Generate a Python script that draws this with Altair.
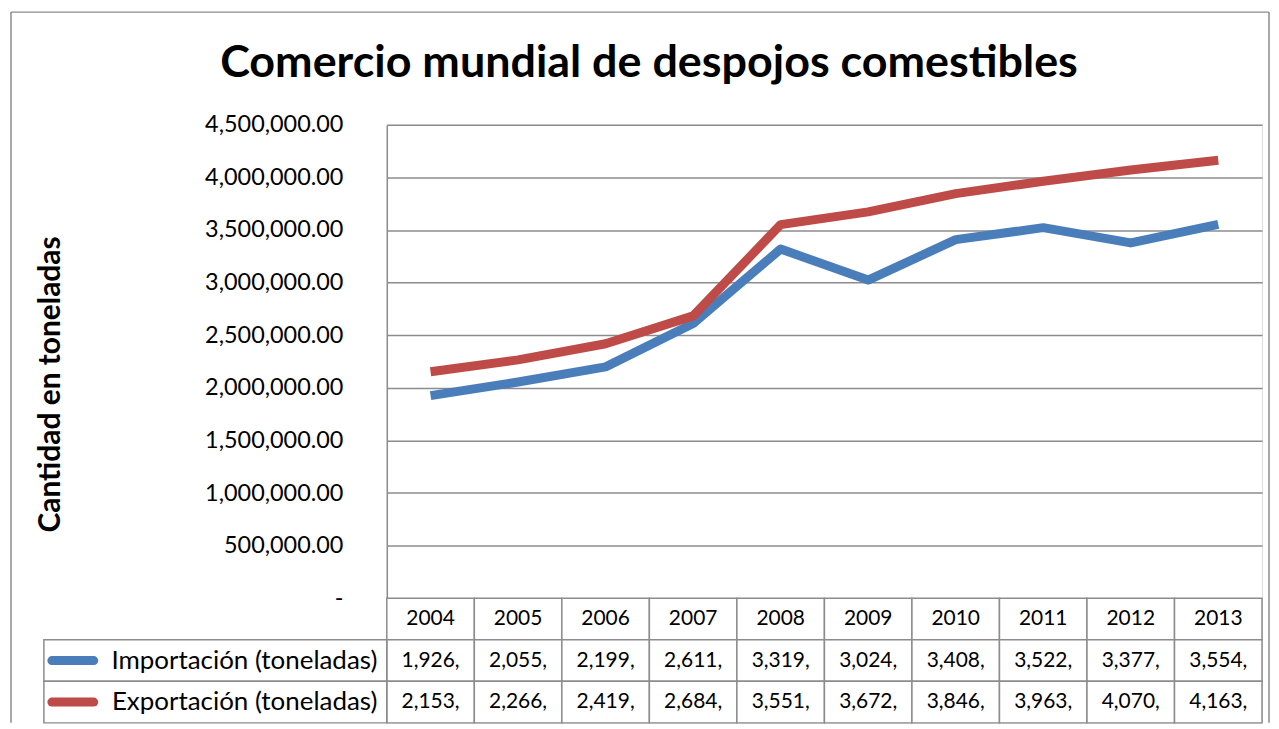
import altair as alt
import pandas as pd

years = ["2004", "2005", "2006", "2007", "2008", "2009", "2010", "2011", "2012", "2013"]
importacion = [1926000, 2055000, 2199000, 2611000, 3319000, 3024000, 3408000, 3522000, 3377000, 3554000]
exportacion = [2153000, 2266000, 2419000, 2684000, 3551000, 3672000, 3846000, 3963000, 4070000, 4163000]
series_names = ["Importación (toneladas)", "Exportación (toneladas)"]
colors = ["#4A7EBB", "#BE4B48"]
y_ticks = [0, 500000, 1000000, 1500000, 2000000, 2500000, 3000000, 3500000, 4000000, 4500000]

FONT = "Lato"
GRID = "#8c8c8c"

rows = []
for name, vals in zip(series_names, [importacion, exportacion]):
    for y, v in zip(years, vals):
        rows.append({"year": y, "serie": name, "value": v})
df = pd.DataFrame(rows)

# table data
tab = [{"year": y, "row": "h", "label": y} for y in years]
for name, vals in zip(series_names, [importacion, exportacion]):
    for y, v in zip(years, vals):
        tab.append({"year": y, "row": name, "label": f"{v:,}"[:6]})
tdf = pd.DataFrame(tab)
row_domain = ["h"] + series_names
ldf = pd.DataFrame({"row": series_names, "serie": series_names})

line = alt.Chart(df).mark_line(strokeWidth=9, strokeJoin="round").encode(
    x=alt.X("year:O", sort=years, axis=None, scale=alt.Scale(domain=years, padding=0.5)),
    y=alt.Y(
        "value:Q",
        scale=alt.Scale(domain=[0, 4500000], nice=False, zero=True),
        axis=alt.Axis(
            values=y_ticks,
            labelExpr="datum.value == 0 ? '-\u00a0\u00a0\u00a0\u00a0\u00a0' : format(datum.value, ',.2f')",
            title="Cantidad en toneladas",
            titleFont=FONT, titleFontSize=30, titleFontWeight="bold", titleColor="black",
            titleX=-337, titleY=260, titleBaseline="middle",
            labelFont=FONT, labelFontSize=23.5, labelColor="black", labelPadding=44,
            tickSize=0, grid=True, gridColor=GRID, gridWidth=1.5,
            domainColor=GRID, domainWidth=1.5,
        ),
    ),
    color=alt.Color("serie:N", scale=alt.Scale(domain=series_names, range=colors), legend=None),
).properties(
    width=878, height=475,
    title=alt.TitleParams(
        "Comercio mundial de despojos comestibles",
        font=FONT, fontSize=45, fontWeight="bold", color="black", anchor="middle",
        frame="bounds", offset=27,
    ),
)

xs = alt.X("year:O", sort=years, axis=None, scale=alt.Scale(domain=years, paddingInner=0, paddingOuter=0))
ys = alt.Y(
    "row:N", sort=row_domain,
    scale=alt.Scale(domain=row_domain, paddingInner=0, paddingOuter=0),
    axis=alt.Axis(
        title=None, labelExpr="datum.value == 'h' ? '' : datum.value", labelLimit=0,
        ticks=False, domain=False, labelFont=FONT, labelFontSize=26, labelColor="black", labelPadding=10,
    ),
)

cells = alt.Chart(tdf).mark_rect(fill="white", stroke=GRID, strokeWidth=1.5).encode(x=xs, y=ys)
texts = alt.Chart(tdf).mark_text(font=FONT, fontSize=21, color="black").encode(x=xs, y=ys, text="label:N")
labcells = alt.Chart(ldf).mark_rect(fillOpacity=0, stroke=GRID, strokeWidth=1.5).encode(
    x=alt.value(-344), x2=alt.value(0), y=ys
)
legend_sym = alt.Chart(ldf).mark_rule(strokeWidth=9, strokeCap="round").encode(
    x=alt.value(-336), x2=alt.value(-294), y=ys,
    color=alt.Color("serie:N", scale=alt.Scale(domain=series_names, range=colors), legend=None),
)
# outer chart-area frame (Excel chart border)
frame_df = pd.DataFrame({"side": ["left", "top", "right"]})
frame_left = alt.Chart(frame_df).transform_filter("datum.side == 'left'").mark_rule(
    color=GRID, strokeWidth=1.5
).encode(x=alt.value(-377), y=alt.value(-588), y2=alt.value(125))
frame_top = alt.Chart(frame_df).transform_filter("datum.side == 'top'").mark_rule(
    color=GRID, strokeWidth=1.5
).encode(x=alt.value(-377), x2=alt.value(885), y=alt.value(-588))
frame_right = alt.Chart(frame_df).transform_filter("datum.side == 'right'").mark_rule(
    color=GRID, strokeWidth=1.5
).encode(x=alt.value(885), y=alt.value(-588), y2=alt.value(125))

table = alt.layer(cells, texts, labcells, legend_sym, frame_left, frame_top, frame_right).properties(
    width=878, height=125
)

chart = alt.vconcat(line, table, spacing=0, bounds="flush").properties(
    padding={"left": 1, "top": 1, "right": 0, "bottom": 0}
).configure_view(stroke=None).configure(background="white")

chart.save("out.html", embed_options={"renderer": "svg", "actions": False})
